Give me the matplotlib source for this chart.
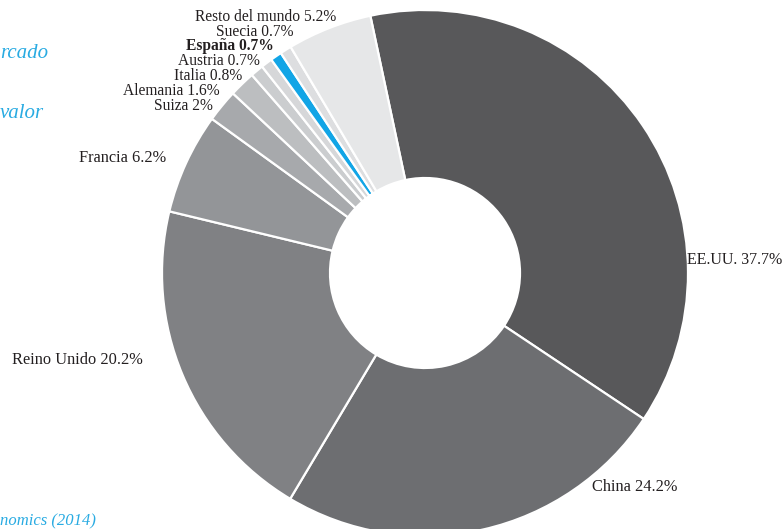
import matplotlib.pyplot as plt

# Market share by country (%)
countries = ["EE.UU.", "China", "Reino Unido", "Francia", "Suiza", "Alemania",
             "Italia", "Austria", "España", "Suecia", "Resto del mundo"]
shares = [37.7, 24.2, 20.2, 6.2, 2.0, 1.6, 0.8, 0.7, 0.7, 0.7, 5.2]
share_labels = ["37.7%", "24.2%", "20.2%", "6.2%", "2%", "1.6%",
                "0.8%", "0.7%", "0.7%", "0.7%", "5.2%"]
colors = ["#58585a", "#6d6e71", "#808184", "#939598", "#a7a9ac", "#bcbec0",
          "#cbcdcf", "#d6d7d9", "#12a5e6", "#dddee0", "#e6e7e8"]

# label anchor (x, y in pixels from top-left), alignment, font size
label_pos = [(782, 260, "right", 11.5), (592, 487, "left", 11.8),
             (143, 360, "right", 11.8), (166, 158, "right", 11.8),
             (213, 106, "right", 11.2), (220, 91, "right", 11.2),
             (242, 76, "right", 11.2), (260, 61, "right", 11.2),
             (274, 46, "right", 11.2), (294, 32, "right", 11.2),
             (336, 17, "right", 11.2)]

W, H = 784, 529
fig = plt.figure(figsize=(W / 100, H / 100), dpi=100)
ax = fig.add_axes([0, 0, 1, 1])

cx, cy, r_out, r_in = 425, H - 273, 263, 95
ax.pie(shares, colors=colors, startangle=102, counterclock=False,
       center=(cx, cy), radius=r_out, frame=True,
       wedgeprops=dict(width=r_out - r_in, edgecolor="white", linewidth=1.6))
ax.set_xlim(0, W)
ax.set_ylim(0, H)
ax.set_aspect("equal")
ax.axis("off")

for name, lab, (x, y, ha, fs) in zip(countries, share_labels, label_pos):
    ax.text(x, H - y, f"{name} {lab}", ha=ha, va="center",
            fontfamily="Liberation Serif", fontsize=fs, color="#231f20",
            fontweight="bold" if name == "España" else "normal")

blue = "#29abe2"
ax.text(0, H - 53, "rcado", ha="left", va="center", fontfamily="Liberation Serif",
        style="italic", fontsize=15, color=blue)
ax.text(0, H - 113, "valor", ha="left", va="center", fontfamily="Liberation Serif",
        style="italic", fontsize=15, color=blue)
ax.text(0, H - 521, "nomics (2014)", ha="left", va="center",
        fontfamily="Liberation Serif", style="italic", fontsize=12, color=blue)

fig.savefig("out.png", dpi=100)
